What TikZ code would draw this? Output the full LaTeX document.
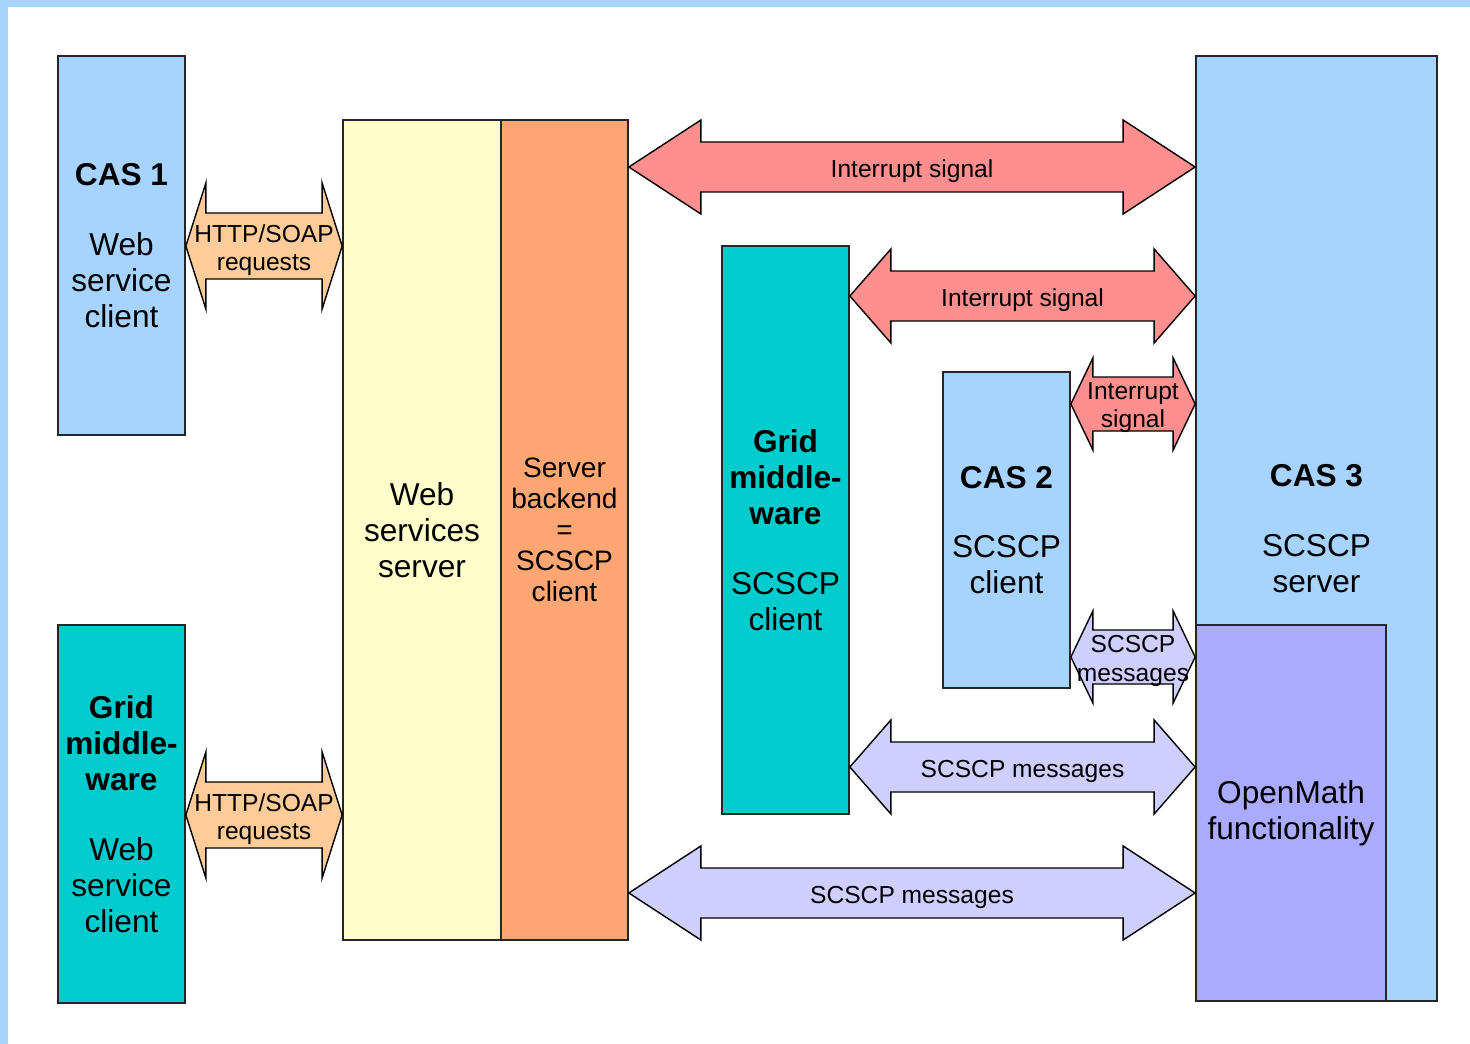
\documentclass[tikz,border=0pt]{standalone}
\usepackage{fontspec}
\setmainfont{Liberation Sans}
\usetikzlibrary{calc}

\definecolor{casblue}{RGB}{166,211,255}
\definecolor{gridcyan}{RGB}{0,204,206}
\definecolor{wsyellow}{RGB}{255,255,204}
\definecolor{backorange}{RGB}{255,166,115}
\definecolor{ommauve}{RGB}{170,170,255}
\definecolor{httppeach}{RGB}{255,204,153}
\definecolor{intred}{RGB}{255,142,142}
\definecolor{msglav}{RGB}{206,206,255}

\newcommand{\boxfont}{\fontsize{18}{20.5}\selectfont}
\newcommand{\backfont}{\fontsize{16}{17.6}\selectfont}
\newcommand{\tagfont}{\fontsize{14}{16}\selectfont}

% block arrow with two heads: #1 = fill, #2/#3 = tips, #4 = head length,
% #5 = head half width, #6 = shaft half width, #7 = label, #8 = label name
\newcommand{\dblarrow}[8]{%
  \draw[arrowline, fill=#1] (#2) -- ++(#4,-#5) -- ++(0,#5-#6) -- ($(#3)+(-#4,-#6)$)
    -- ++(0,#6-#5) -- (#3) -- ++(-#4,#5) -- ++(0,#6-#5) -- ($(#2)+(#4,#6)$)
    -- ++(0,#5-#6) -- cycle;
  \node[arrowlabel] (#8) at ($(#2)!0.5!(#3)$) {#7};
}

\tikzset{
    box/.style={draw=black!85, line width=1pt, inner sep=0pt, align=center, font=\boxfont},
    casbox/.style={box, fill=casblue, minimum width=2.54cm},
    gridbox/.style={box, fill=gridcyan, minimum width=2.54cm},
    arrowline/.style={draw=black, line width=0.8pt, line join=miter},
    arrowlabel/.style={align=center, inner sep=0pt, font=\tagfont, yshift=-0.08cm},
    }

\begin{document}
\begin{tikzpicture}[x=0.02cm, y=-0.02cm]
    \useasboundingbox (0,0) rectangle (1470,1044);
    % frame
    \fill[casblue] (0,0) rectangle (1470,7);
    \fill[casblue] (0,0) rectangle (8,1044);

    % boxes
    \node[casbox, minimum height=7.58cm] (cas1) at (121.5,245.5)
        {\textbf{CAS 1}\\[19pt]Web\\service\\client};
    \node[gridbox, minimum height=7.56cm] (gridws) at (121.5,814)
        {\textbf{Grid}\\\textbf{middle-}\\\textbf{ware}\\[19pt]Web\\service\\client};

    \node[box, fill=wsyellow, minimum width=3.16cm, minimum height=16.4cm] (wss) at (422,530)
        {Web\\services\\server};
    \node[box, fill=backorange, minimum width=2.54cm, minimum height=16.4cm, font=\backfont] (backend) at (564.5,530)
        {Server\\backend\\=\\SCSCP\\client};

    \node[gridbox, minimum height=11.36cm] (gridmw) at (785.5,530)
        {\textbf{Grid}\\\textbf{middle-}\\\textbf{ware}\\[19pt]SCSCP\\client};
    \node[casbox, minimum height=6.32cm] (cas2) at (1006.5,530)
        {\textbf{CAS 2}\\[19pt]SCSCP\\client};

    \node[casbox, minimum width=4.82cm, minimum height=18.9cm] (cas3) at (1316.5,528.5)
        {\textbf{CAS 3}\\[19pt]SCSCP\\server};
    \node[box, fill=ommauve, minimum width=3.8cm, minimum height=7.52cm] (openmath) at (1291,813)
        {OpenMath\\functionality};

    % arrow ends
    \coordinate (h1l) at (cas1.east |- 0,246);
    \coordinate (h1r) at (wss.west |- 0,246);
    \coordinate (h2l) at (gridws.east |- 0,815);
    \coordinate (h2r) at (wss.west |- 0,815);
    \coordinate (i1l) at (backend.east |- 0,167);
    \coordinate (i1r) at (cas3.west |- 0,167);
    \coordinate (i2l) at (gridmw.east |- 0,296);
    \coordinate (i2r) at (cas3.west |- 0,296);
    \coordinate (i3l) at (cas2.east |- 0,404);
    \coordinate (i3r) at (cas3.west |- 0,404);
    \coordinate (m3l) at (cas2.east |- 0,657);
    \coordinate (m3r) at (cas3.west |- 0,657);
    \coordinate (m2l) at (gridmw.east |- 0,767);
    \coordinate (m2r) at (cas3.west |- 0,767);
    \coordinate (m1l) at (backend.east |- 0,893);
    \coordinate (m1r) at (cas3.west |- 0,893);

    % arrows
    \dblarrow{httppeach}{h1l}{h1r}{20}{63}{33}{HTTP/SOAP\\requests}{http1}
    \dblarrow{httppeach}{h2l}{h2r}{20}{63}{33}{HTTP/SOAP\\requests}{http2}

    \dblarrow{intred}{i1l}{i1r}{72}{47}{25}{Interrupt signal}{int1}
    \dblarrow{intred}{i2l}{i2r}{41}{47}{25}{Interrupt signal}{int2}
    \dblarrow{intred}{i3l}{i3r}{22}{46}{27}{Interrupt\\signal}{int3}

    \dblarrow{msglav}{m3l}{m3r}{22}{46}{27}{SCSCP\\messages}{msg3}
    \dblarrow{msglav}{m2l}{m2r}{41}{47}{25}{SCSCP messages}{msg2}
    \dblarrow{msglav}{m1l}{m1r}{72}{47}{25}{SCSCP messages}{msg1}

\end{tikzpicture}
\end{document}
